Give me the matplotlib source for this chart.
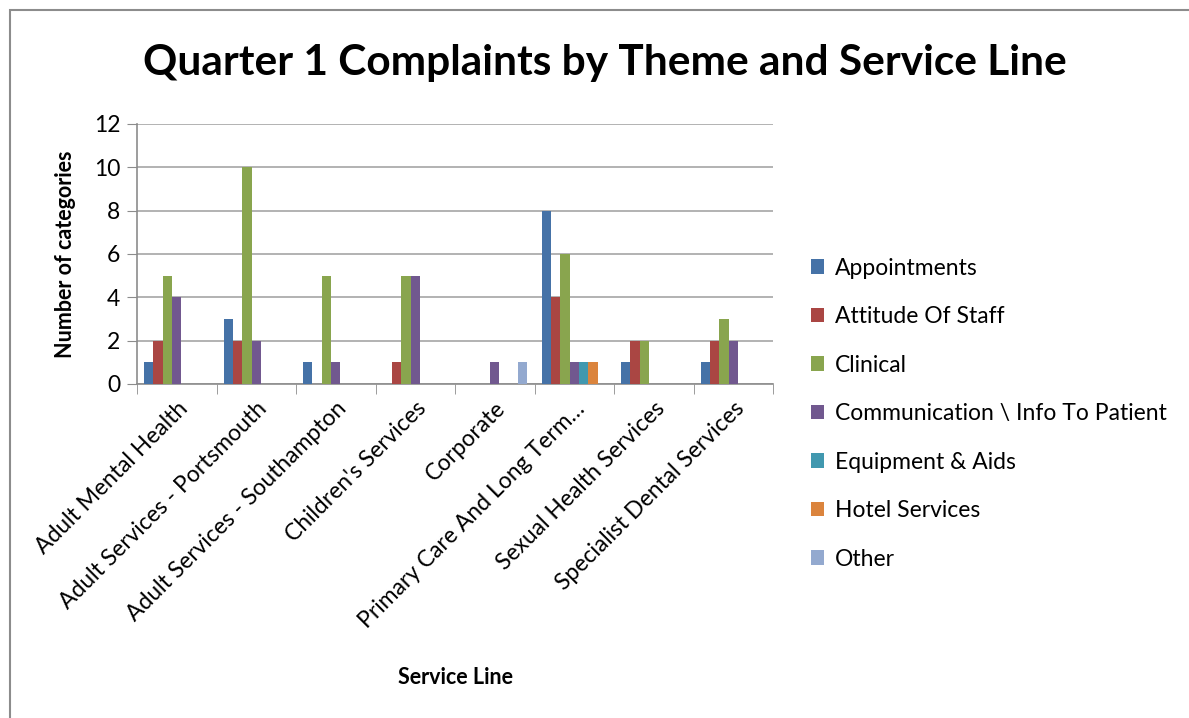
import matplotlib
matplotlib.use("Agg")
import matplotlib.pyplot as plt
import numpy as np
from matplotlib.patches import Rectangle

service_lines = [
    "Adult Mental Health",
    "Adult Services - Portsmouth",
    "Adult Services - Southampton",
    "Children's Services",
    "Corporate",
    "Primary Care And Long Term…",
    "Sexual Health Services",
    "Specialist Dental Services",
]

themes = [
    "Appointments",
    "Attitude Of Staff",
    "Clinical",
    "Communication \\ Info To Patient",
    "Equipment & Aids",
    "Hotel Services",
    "Other",
]

appointments = [1, 3, 1, 0, 0, 8, 1, 1]
attitude_of_staff = [2, 2, 0, 1, 0, 4, 2, 2]
clinical = [5, 10, 5, 5, 0, 6, 2, 3]
communication = [4, 2, 1, 5, 1, 1, 0, 2]
equipment_aids = [0, 0, 0, 0, 0, 1, 0, 0]
hotel_services = [0, 0, 0, 0, 0, 1, 0, 0]
other = [0, 0, 0, 0, 1, 0, 0, 0]

series = [appointments, attitude_of_staff, clinical, communication,
          equipment_aids, hotel_services, other]
colors = ["#4572A7", "#AA4643", "#89A54E", "#71588F",
          "#4198AF", "#DB843D", "#93A9CF"]

plt.rcParams["font.family"] = ["Lato", "DejaVu Sans"]

W, H = 1189, 718
fig = plt.figure(figsize=(W / 100, H / 100), dpi=100)

# chart frame
fig.patches.append(Rectangle((10 / W, -0.01), 1.05, (H - 10) / H + 0.01,
                             transform=fig.transFigure, fill=False,
                             edgecolor="#8c8c8c", linewidth=1.5))

left, right, top, bottom = 137, 773, 124, 384
ax = fig.add_axes([left / W, 1 - bottom / H, (right - left) / W, (bottom - top) / H])

n_series = len(series)
gap = 1.5
bar_w = 1.0 / (n_series + gap)
x = np.arange(len(service_lines))
for i, (vals, col, name) in enumerate(zip(series, colors, themes)):
    offs = (i - (n_series - 1) / 2) * bar_w
    ax.bar(x + offs, vals, width=bar_w, color=col, label=name, zorder=3)

ax.set_xlim(-0.5, len(service_lines) - 0.5)
ax.set_ylim(0, 12)
ax.set_yticks(np.arange(0, 13, 2))
ax.yaxis.grid(True, color="#a6a6a6", linewidth=1.2, zorder=0)
ax.tick_params(axis="y", labelsize=16.5, length=7, color="#8c8c8c", pad=5)

ax.set_xticks(x)
ax.set_xticklabels(service_lines, rotation=45, ha="right", rotation_mode="anchor",
                   fontsize=16.5)
ax.tick_params(axis="x", length=0, pad=10)
ax.set_xticks(np.arange(-0.5, len(service_lines)), minor=True)
ax.tick_params(axis="x", which="minor", length=7, color="#8c8c8c")

for s in ["top", "right"]:
    ax.spines[s].set_visible(False)
for s in ["left", "bottom"]:
    ax.spines[s].set_color("#8c8c8c")
    ax.spines[s].set_linewidth(1.2)

ax.set_ylabel("Number of categories", fontsize=15.5, fontweight="bold", labelpad=13)
fig.text(455 / W, 1 - 677 / H, "Service Line", fontsize=15.5, fontweight="bold",
         ha="center", va="center")

fig.text(605 / W, 1 - 63 / H, "Quarter 1 Complaints by Theme and Service Line",
         fontsize=30.5, fontweight="bold", ha="center", va="center")

leg = ax.legend(loc="upper left", bbox_to_anchor=(790 / W, 1 - 237 / H),
                bbox_transform=fig.transFigure, frameon=False, fontsize=16.5,
                handlelength=0.6, handleheight=0.6, handletextpad=0.45,
                labelspacing=1.2)

fig.savefig("out.png", dpi=100)
